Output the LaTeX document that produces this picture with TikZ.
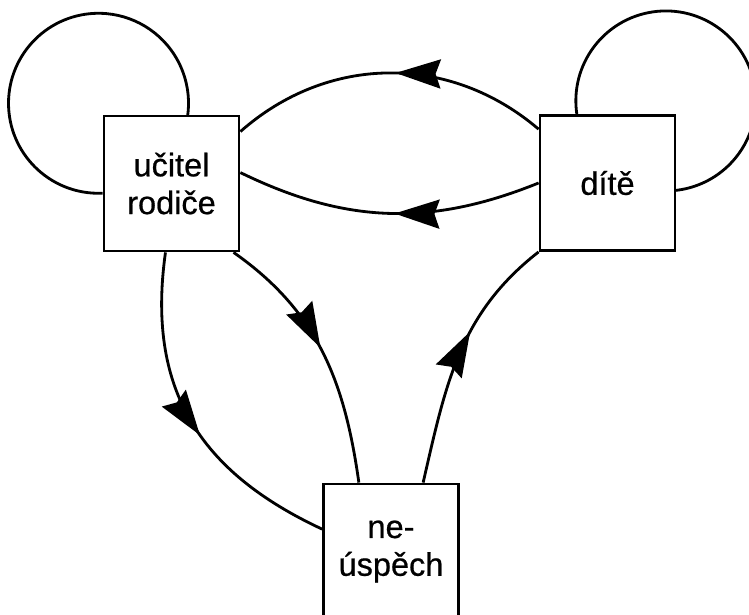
\documentclass[tikz,border=0pt]{standalone}
\usepackage{fontspec}
\setmainfont{Liberation Sans}[FakeBold=0.6]
\usetikzlibrary{arrows.meta,decorations.markings}

\tikzset{
  box/.style={shape=rectangle, draw=black, line width=1.6pt, minimum width=2.7cm,
    minimum height=2.7cm, inner sep=0pt, align=center, font=\fontsize{18.5}{21.5}\selectfont},
  link/.style={line width=1.6pt},
  mid arrow/.style={postaction={decorate}, decoration={markings,
    mark=at position #1 with {\arrow{Stealth[length=0.9cm,width=0.58cm,inset=0.1cm]}}}}
}

\begin{document}
\begin{tikzpicture}
\useasboundingbox (0,0) rectangle (14.98,12.3);

%draw the three boxes
\node [box] at (3.43,8.63) (ucitel) {učitel\\rodiče};
\node [box] at (12.15,8.64) (dite) {dítě};
\node [box] at (7.82,1.27) (neuspech) {ne-\\úspěch};

%loops on the two upper boxes
\draw [link] (ucitel.188) arc[start angle=-87.4, end angle=-367.7, radius=1.8cm];
\draw [link] (dite.114.5) arc[start angle=188.4, end angle=-84.3, radius=1.8cm];

%edges from dite to ucitel
\draw [link,mid arrow=0.48] (dite.142) to[bend right=41] (ucitel.37);
\draw [link,mid arrow=0.48] (dite.west) to[bend left=24] (ucitel.9);

%edges round the lower box
\draw [link,mid arrow=0.55] (ucitel.-95) to[out=-98,in=155,looseness=1.1] (neuspech.162);
\draw [link,mid arrow=0.48] (ucitel.-48) to[out=-35,in=98] (neuspech.115);
\draw [link,mid arrow=0.6] (neuspech.65) to[out=77,in=218] (dite.south west);

\end{tikzpicture}
\end{document}
